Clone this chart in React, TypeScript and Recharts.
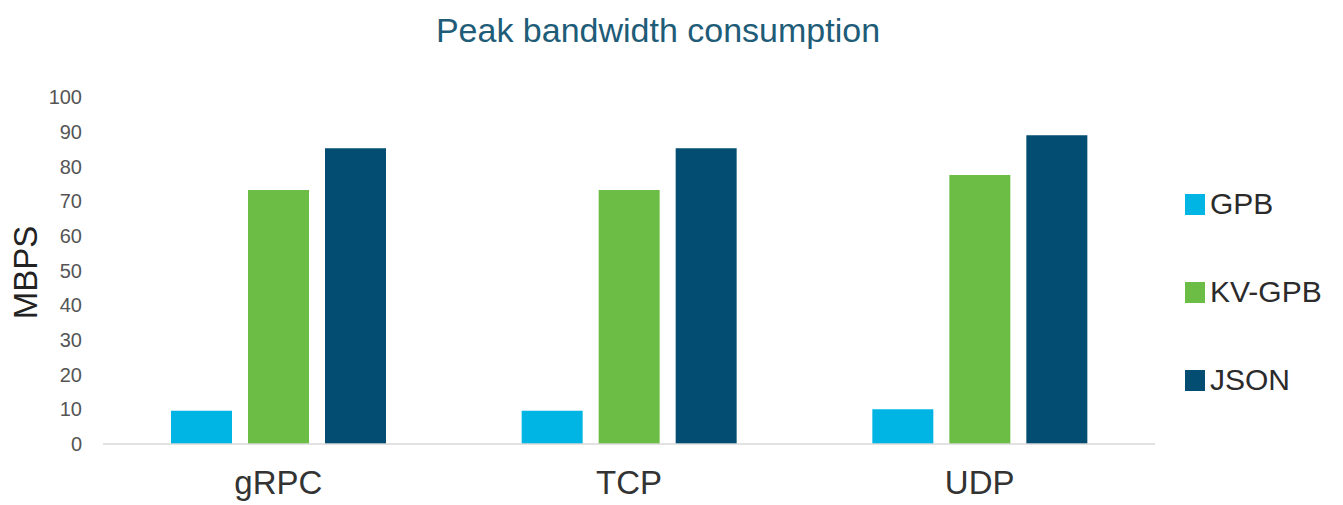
import React from "react";
import { BarChart, Bar, XAxis, YAxis, Legend, Label } from "recharts";

// ─── Data ────────────────────────────────────────────────────────────────────

const protocols = ["gRPC", "TCP", "UDP"];
const gpb = [9.6, 9.6, 10.0];
const kvGpb = [73.2, 73.2, 77.5];
const json = [85.2, 85.2, 89.0];
const yTicks = [0, 10, 20, 30, 40, 50, 60, 70, 80, 90, 100];

const SERIES = [
  { key: "GPB", color: "#00b4e4" },
  { key: "KV-GPB", color: "#6cbd45" },
  { key: "JSON", color: "#024d71" },
];

const data = protocols.map((p, i) => ({
  name: p,
  GPB: gpb[i],
  "KV-GPB": kvGpb[i],
  JSON: json[i],
}));

const FONT = '"Liberation Sans", Arial, Helvetica, sans-serif';

// ─── Legend ──────────────────────────────────────────────────────────────────

function SideLegend() {
  return (
    <div style={{ width: 170, fontFamily: FONT }}>
      {SERIES.map((s) => (
        <div
          key={s.key}
          style={{ height: 88, display: "flex", alignItems: "center", paddingLeft: 30 }}
        >
          <span style={{ width: 20, height: 21, background: s.color, display: "inline-block" }} />
          <span style={{ marginLeft: 5, fontSize: 30, color: "#2b2b2b", lineHeight: "30px" }}>
            {s.key}
          </span>
        </div>
      ))}
    </div>
  );
}

function AxisTitle({ viewBox }: any) {
  const x = viewBox.x + 17;
  const y = viewBox.y + viewBox.height / 2 + 2;
  return (
    <text
      x={x}
      y={y}
      transform={`rotate(-90, ${x}, ${y})`}
      textAnchor="middle"
      dominantBaseline="central"
      fontSize={33}
      fontFamily={FONT}
      fill="#222"
    >
      MBPS
    </text>
  );
}

// ─── Main ────────────────────────────────────────────────────────────────────

export default function App() {
  return (
    <div style={{ position: "relative", width: 1335, height: 497, fontFamily: FONT }}>
      <div
        style={{
          position: "absolute",
          left: 0,
          top: 5,
          width: 1300,
          textAlign: "center",
          fontSize: 34,
          lineHeight: "34px",
          color: "#1e5c78",
        }}
      >
        Peak bandwidth consumption
      </div>
      <BarChart
        width={1335}
        height={497}
        data={data}
        margin={{ top: 89, right: 18, left: 0, bottom: 0 }}
        barSize={61}
        barGap={16}
      >
        <XAxis
          dataKey="name"
          height={61}
          axisLine={{ stroke: "#d9d9d9", strokeWidth: 1.5 }}
          tickLine={false}
          tickSize={0}
          tickMargin={27}
          tick={{ fontSize: 33, fill: "#333", fontFamily: FONT }}
        />
        <YAxis
          width={95}
          domain={[0, 100]}
          ticks={yTicks}
          interval={0}
          axisLine={false}
          tickLine={false}
          tickSize={0}
          tickMargin={21}
          tick={{ fontSize: 20, fill: "#555", fontFamily: FONT }}
        >
          <Label content={<AxisTitle />} />
        </YAxis>
        <Legend
          layout="vertical"
          align="right"
          verticalAlign="top"
          wrapperStyle={{ top: 152 }}
          content={<SideLegend />}
        />
        {SERIES.map((s) => (
          <Bar key={s.key} dataKey={s.key} fill={s.color} isAnimationActive={false} />
        ))}
      </BarChart>
    </div>
  );
}
